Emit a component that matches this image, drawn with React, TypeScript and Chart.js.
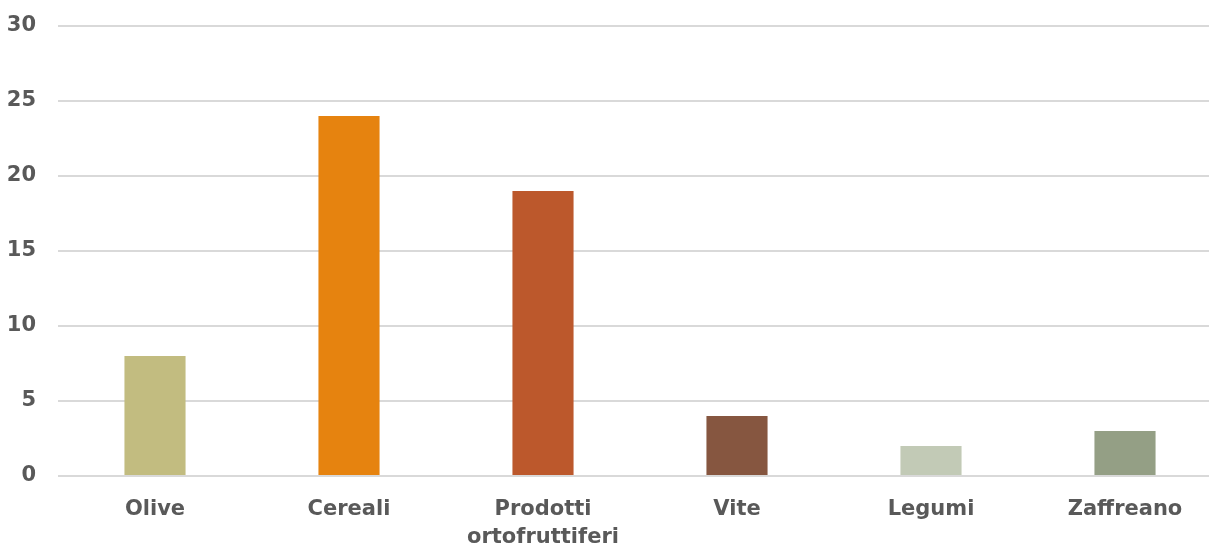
import React, { useEffect, useRef } from "react";
import { Chart, registerables } from "chart.js";

Chart.register(...registerables);

const categories: (string | string[])[] = [
  "Olive",
  "Cereali",
  ["Prodotti", "ortofruttiferi"],
  "Vite",
  "Legumi",
  "Zaffreano",
];
const values: number[] = [8, 24, 19, 4, 2, 3];
const barColors: string[] = ["#C2BC80", "#E6830F", "#BC582C", "#865640", "#C2CAB6", "#949F85"];
const yTicks: number[] = [0, 5, 10, 15, 20, 25, 30];

export default function App() {
  const ref = useRef<HTMLCanvasElement | null>(null);
  useEffect(() => {
    if (!ref.current) return;
    const font = { family: "'DejaVu Sans', sans-serif", size: 21, weight: "bold" as const, lineHeight: 1.35 };
    const chart = new Chart(ref.current, {
      type: "bar",
      data: {
        labels: categories,
        datasets: [
          {
            data: values,
            backgroundColor: barColors,
            borderColor: barColors,
            borderWidth: 0,
            inflateAmount: 0,
            categoryPercentage: 1,
            barPercentage: 0.315,
          },
        ],
      },
      options: {
        responsive: false,
        animation: false,
        layout: { padding: { top: 26, left: 8, right: 0, bottom: 0 } },
        plugins: { legend: { display: false }, tooltip: { enabled: false } },
        scales: {
          x: {
            grid: { display: false, drawTicks: false },
            border: { display: false },
            ticks: { color: "#595959", font, padding: 19, maxRotation: 0, autoSkip: false },
            afterFit: (axis: any) => {
              axis.height = 71;
              axis.paddingLeft = 0;
              axis.paddingRight = 0;
            },
          },
          y: {
            min: 0,
            max: 30,
            afterBuildTicks: (axis: any) => {
              axis.ticks = yTicks.map((v) => ({ value: v }));
            },
            grid: { color: "#D9D9D9", lineWidth: 2, drawTicks: false },
            border: { display: false },
            ticks: { color: "#595959", font, padding: 22 },
            afterFit: (axis: any) => {
              axis.width = 50;
              axis.paddingTop = 0;
              axis.paddingBottom = 0;
            },
          },
        },
      },
    });
    return () => chart.destroy();
  }, []);
  return (
    <div style={{ position: "fixed", left: 0, top: 0, width: 1209, height: 547, overflow: "hidden", background: "#fff" }}>
      <canvas ref={ref} width={1222} height={547} style={{ display: "block" }} />
    </div>
  );
}
